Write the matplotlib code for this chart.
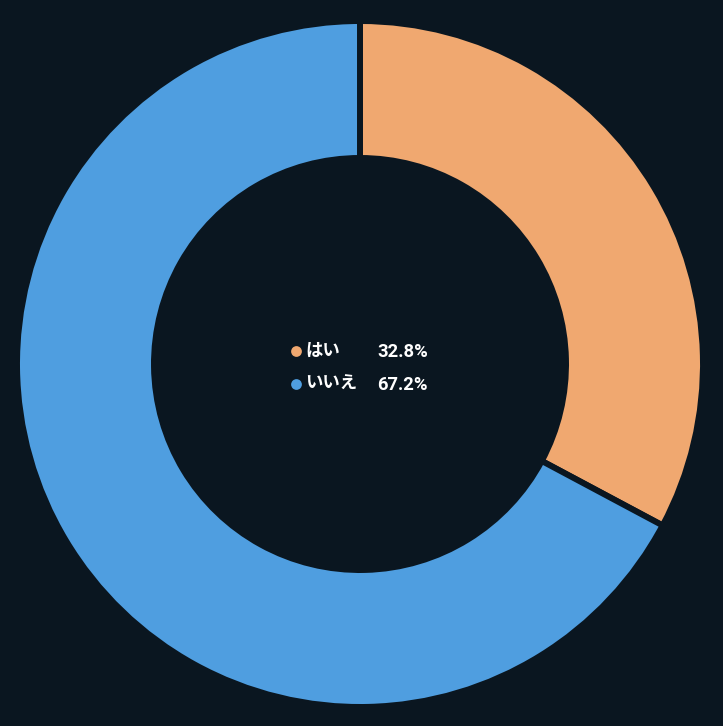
import matplotlib
matplotlib.use("Agg")
import matplotlib.pyplot as plt

labels = ["はい", "いいえ"]
values = [32.8, 67.2]
colors = ["#f0a870", "#4f9ee0"]
bg = "#0a1620"

W, H = 723, 726
fig = plt.figure(figsize=(W / 100, H / 100), dpi=100, facecolor=bg)
ax = fig.add_axes([0, 0, 1, 1])
ax.set_facecolor(bg)

cx, cy = 360, H - 364
R = 343
inner = 206
ax.pie(values, colors=colors, startangle=90, counterclock=False,
       center=(cx, cy), radius=R,
       wedgeprops=dict(width=R - inner, edgecolor=bg, linewidth=4.3))
ax.set_xlim(0, W)
ax.set_ylim(0, H)
ax.set_aspect("equal")
ax.axis("off")

fam_jp = ["Noto Sans CJK JP", "DejaVu Sans"]
fam_num = ["Roboto", "DejaVu Sans"]
rows_y = [351, 384]
for lab, v, c, y in zip(labels, values, colors, rows_y):
    Y = H - y
    ax.scatter([296], [Y], s=60, color=c, zorder=5, linewidths=0)
    ax.text(305, Y, lab, color="white", fontsize=12.5, fontweight="bold",
            family=fam_jp, va="center", ha="left")
    ax.text(428, Y - 1, f"{v:.1f}%", color="white", fontsize=13.2, fontweight="bold",
            family=fam_num, va="center", ha="right")

fig.savefig("out.png", dpi=100, facecolor=bg)
